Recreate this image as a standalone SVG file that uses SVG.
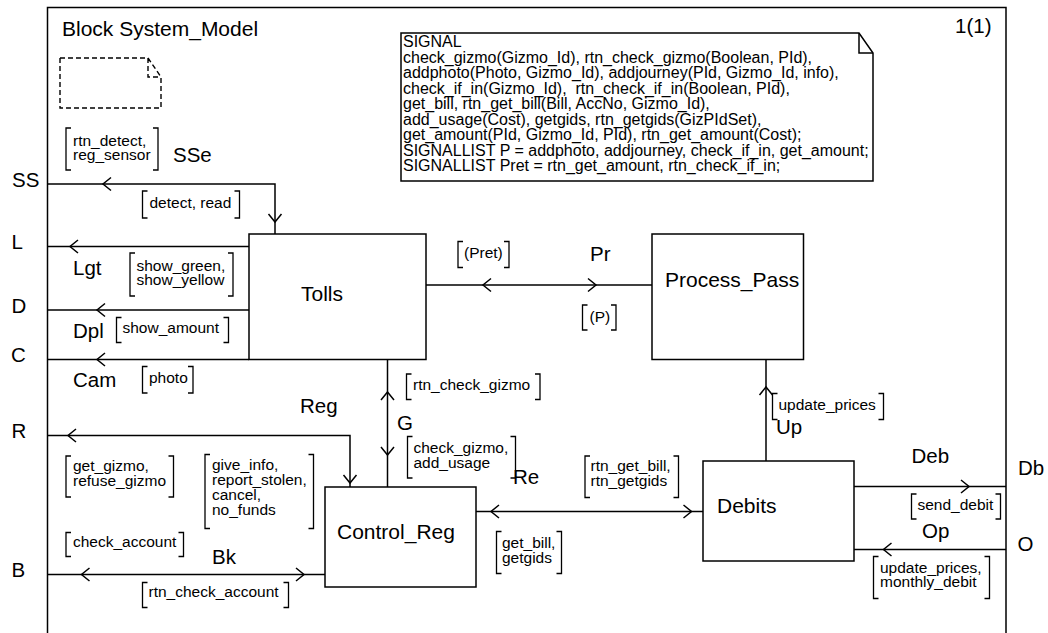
<svg xmlns="http://www.w3.org/2000/svg" xmlns:xlink="http://www.w3.org/1999/xlink" width="1048" height="633" viewBox="0 0 1048 633">
<style>
.ln{stroke:#000;stroke-width:1.5;fill:none}
.box{fill:#fff;stroke:#000;stroke-width:1.5}
.br{stroke:#000;stroke-width:1.3;fill:none}
text{font-family:"Liberation Sans",Arial,Helvetica,sans-serif;fill:#000}
.big{font-size:20.5px}
.nm{font-size:21px}
.sig{font-size:15.5px}
.note{font-size:16px;white-space:pre}
</style>
<defs>
<path id="aL" class="ln" d="M8,-6.5 L0,0 L8,6.5"/>
<path id="aR" class="ln" d="M-8,-6.5 L0,0 L-8,6.5"/>
<path id="aU" class="ln" d="M-6.5,8 L0,0 L6.5,8"/>
<path id="aD" class="ln" d="M-6.5,-8 L0,0 L6.5,-8"/>
</defs>
<rect width="1048" height="633" fill="#fff"/>
<g id="frame">
<path class="ln" d="M47.5,640 V7.5 H1006 V640"/>
<text class="nm" x="62" y="35.5">Block System_Model</text>
<text class="big" x="955" y="32.5">1(1)</text>
<path d="M60,58 H148 L161,77 V108 H60 Z M148,58 V77 H161" fill="none" stroke="#000" stroke-width="1.4" stroke-dasharray="5,3"/>
</g>
<g id="signal-note">
<path class="box" d="M401,33 H859 L873,53 V181 H401 Z"/>
<path class="ln" d="M859,33 V53 H873"/>
<text class="note" x="403" y="47">SIGNAL</text>
<text class="note" x="403" y="62.5">check_gizmo(Gizmo_Id), rtn_check_gizmo(Boolean, PId),</text>
<text class="note" x="403" y="78">addphoto(Photo, Gizmo_Id), addjourney(PId, Gizmo_Id, info),</text>
<text class="note" x="403" y="93.5">check_if_in(Gizmo_Id),  rtn_check_if_in(Boolean, PId),</text>
<text class="note" x="403" y="109">get_bill, rtn_get_bill(Bill, AccNo, Gizmo_Id),</text>
<text class="note" x="403" y="124.5">add_usage(Cost), getgids, rtn_getgids(GizPIdSet),</text>
<text class="note" x="403" y="140">get_amount(PId, Gizmo_Id, PId), rtn_get_amount(Cost);</text>
<text class="note" x="403" y="155.5">SIGNALLIST P = addphoto, addjourney, check_if_in, get_amount;</text>
<text class="note" x="403" y="171">SIGNALLIST Pret = rtn_get_amount, rtn_check_if_in;</text>
</g>
<g id="connectors">
<path class="ln" d="M47.5,184 H275 V234"/>
<use href="#aL" x="103" y="184"/>
<use href="#aD" x="275" y="222"/>
<path class="ln" d="M249,246.5 H47.5"/>
<use href="#aL" x="70" y="246.5"/>
<path class="ln" d="M249,310 H47.5"/>
<use href="#aL" x="97" y="310"/>
<path class="ln" d="M249,359.5 H47.5"/>
<use href="#aL" x="97" y="359.5"/>
<path class="ln" d="M426,285 H652"/>
<use href="#aL" x="483" y="285"/>
<use href="#aR" x="596" y="285"/>
<path class="ln" d="M387.5,359.5 V487"/>
<use href="#aU" x="387.5" y="392"/>
<use href="#aD" x="387.5" y="455"/>
<path class="ln" d="M476,511.5 H703"/>
<use href="#aL" x="491" y="511.5"/>
<use href="#aR" x="691.5" y="511.5"/>
<path class="ln" d="M766,359.5 V461"/>
<use href="#aU" x="766" y="387"/>
<path class="ln" d="M854,486.5 H1006"/>
<use href="#aR" x="969" y="486.5"/>
<path class="ln" d="M1006,549.5 H854"/>
<use href="#aL" x="883.5" y="549.5"/>
<path class="ln" d="M47.5,435.5 H350 V487"/>
<use href="#aL" x="68" y="435.5"/>
<use href="#aD" x="350" y="483"/>
<path class="ln" d="M47.5,574.5 H325"/>
<use href="#aL" x="81.5" y="574.5"/>
<use href="#aR" x="304" y="574.5"/>
</g>
<g id="connector-labels">
<text class="big" x="12" y="187">SS</text>
<text class="big" x="11.5" y="249">L</text>
<text class="big" x="11.5" y="312.5">D</text>
<text class="big" x="11" y="361.5">C</text>
<text class="big" x="11.5" y="438">R</text>
<text class="big" x="11.5" y="576.5">B</text>
<text class="big" x="1018" y="475">Db</text>
<text class="big" x="1017.5" y="550.5">O</text>
<text class="big" x="173" y="161.5">SSe</text>
<text class="big" x="73" y="275">Lgt</text>
<text class="big" x="73" y="338">Dpl</text>
<text class="big" x="73" y="386.5">Cam</text>
<text class="big" x="300" y="413">Reg</text>
<text class="big" x="590" y="260.5">Pr</text>
<text class="big" x="397" y="430">G</text>
<text class="big" x="513" y="484">Re</text>
<text class="big" x="776" y="434">Up</text>
<text class="big" x="911.5" y="463">Deb</text>
<text class="big" x="922" y="538">Op</text>
<text class="big" x="212" y="564">Bk</text>
<path class="br" d="M71,128 H66 V170 H71 M153,128 H158 V170 H153"/>
<text class="sig" x="73" y="145.5">rtn_detect,</text>
<text class="sig" x="73" y="160">reg_sensor</text>
<path class="br" d="M147.5,191 H142.5 V218 H147.5 M234.5,191 H239.5 V218 H234.5"/>
<text class="sig" x="149.5" y="208">detect, read</text>
<path class="br" d="M135,253 H130 V296 H135 M228,253 H233 V296 H228"/>
<text class="sig" x="136.5" y="270.5">show_green,</text>
<text class="sig" x="136.5" y="285">show_yellow</text>
<path class="br" d="M121.5,317.5 H116.5 V342.5 H121.5 M223.5,317.5 H228.5 V342.5 H223.5"/>
<text class="sig" x="122.5" y="333">show_amount</text>
<path class="br" d="M147.5,366.5 H142.5 V393 H147.5 M188,366.5 H193 V393 H188"/>
<text class="sig" x="149" y="383">photo</text>
<path class="br" d="M463,241.5 H458 V267.5 H463 M504,241.5 H509 V267.5 H504"/>
<text class="sig" x="464" y="258">(Pret)</text>
<path class="br" d="M587.5,305 H582.5 V330 H587.5 M611,305 H616 V330 H611"/>
<text class="sig" x="589.5" y="321.5">(P)</text>
<path class="br" d="M411.5,374 H406.5 V399.5 H411.5 M535,374 H540 V399.5 H535"/>
<text class="sig" x="413" y="390">rtn_check_gizmo</text>
<path class="br" d="M412.5,436.5 H407.5 V478 H412.5 M510.5,436.5 H515.5 V478 H510.5"/>
<text class="sig" x="413.5" y="453">check_gizmo,</text>
<text class="sig" x="413.5" y="467.5">add_usage</text>
<path class="br" d="M590,456 H585 V497.5 H590 M673.5,456 H678.5 V497.5 H673.5"/>
<text class="sig" x="590.5" y="471">rtn_get_bill,</text>
<text class="sig" x="590.5" y="486">rtn_getgids</text>
<path class="br" d="M501.5,531.5 H496.5 V573.5 H501.5 M556.5,531.5 H561.5 V573.5 H556.5"/>
<text class="sig" x="502" y="548">get_bill,</text>
<text class="sig" x="502" y="562.5">getgids</text>
<path class="br" d="M777.5,393.5 H772.5 V419.5 H777.5 M878.5,393.5 H883.5 V419.5 H878.5"/>
<text class="sig" x="778.5" y="410">update_prices</text>
<path class="br" d="M916.5,494 H911.5 V519 H916.5 M995.5,494 H1000.5 V519 H995.5"/>
<text class="sig" x="917.5" y="510">send_debit</text>
<path class="br" d="M878.5,556.5 H873.5 V598.5 H878.5 M984.5,556.5 H989.5 V598.5 H984.5"/>
<text class="sig" x="880" y="572.5">update_prices,</text>
<text class="sig" x="880" y="587">monthly_debit</text>
<path class="br" d="M71,456 H66 V497 H71 M168.5,456 H173.5 V497 H168.5"/>
<text class="sig" x="73" y="471">get_gizmo,</text>
<text class="sig" x="73" y="485.5">refuse_gizmo</text>
<path class="br" d="M210,454.5 H205 V528.5 H210 M308.5,454.5 H313.5 V528.5 H308.5"/>
<text class="sig" x="212" y="470">give_info,</text>
<text class="sig" x="212" y="485">report_stolen,</text>
<text class="sig" x="212" y="500">cancel,</text>
<text class="sig" x="212" y="515">no_funds</text>
<path class="br" d="M71,532.5 H66 V556.5 H71 M178.5,532.5 H183.5 V556.5 H178.5"/>
<text class="sig" x="73" y="547">check_account</text>
<path class="br" d="M147.5,582.5 H142.5 V607.5 H147.5 M283.5,582.5 H288.5 V607.5 H283.5"/>
<text class="sig" x="148.5" y="597">rtn_check_account</text>
</g>
<g id="Tolls">
<rect class="box" x="249" y="234" width="177" height="125.5"/>
<text class="nm" x="301" y="301">Tolls</text>
</g>
<g id="Process_Pass">
<rect class="box" x="652" y="234" width="151.5" height="125.5"/>
<text class="nm" x="665" y="287">Process_Pass</text>
</g>
<g id="Control_Reg">
<rect class="box" x="325" y="487" width="151" height="100"/>
<text class="nm" x="337" y="539">Control_Reg</text>
</g>
<g id="Debits">
<rect class="box" x="703" y="461" width="151" height="100"/>
<text class="nm" x="717" y="512.5">Debits</text>
</g>
</svg>
